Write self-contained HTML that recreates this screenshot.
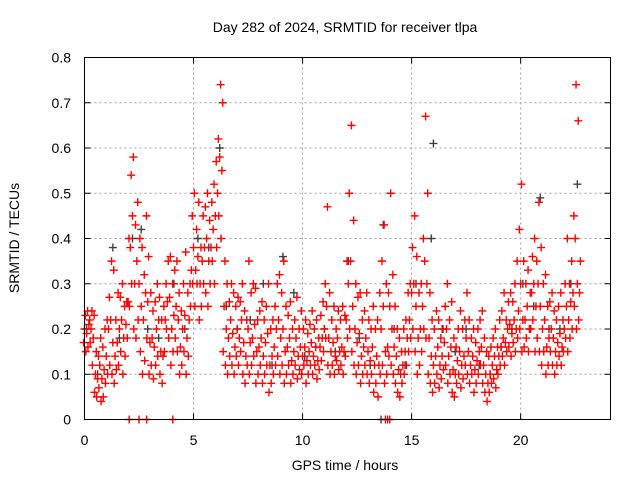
<!DOCTYPE html>
<html><head><meta charset="utf-8"><style>
body{margin:0;background:#fff;}
svg{display:block;font-family:"Liberation Sans",sans-serif;}
</style></head><body>
<svg id="chart" width="640" height="480" viewBox="0 0 640 480">
<text x="345" y="32" text-anchor="middle" font-size="14" fill="#000">Day 282 of 2024, SRMTID for receiver tlpa</text>
<text x="19" y="238" text-anchor="middle" font-size="14" transform="rotate(-90 19 238)">SRMTID / TECUs</text>
<text x="345" y="470" text-anchor="middle" font-size="14">GPS time / hours</text>
<g id="grid"></g><g id="ticks"></g><g id="marks"></g>
<rect x="84.5" y="57.5" width="526" height="362" fill="none" stroke="#000" stroke-width="1"/>
</svg>
<script>
const xTicks=[0,5,10,15,20];
const yTicks=[0,0.1,0.2,0.3,0.4,0.5,0.6,0.7,0.8];
const yTickLabels=["0","0.1","0.2","0.3","0.4","0.5","0.6","0.7","0.8"];
const redStart=0, redStep=0.1;
// red series, per 0.1h bin: low, mid, high (hundredths of TECU)
const redHundredths=[
17,20,23, 15,19,24, 16,21,22, 17,20,24, 12,18,23, 6,10,15, 5,9,14, 7,12,18, 4,9,16, 5,11,20,
8,14,22, 10,20,27, 12,22,35, 10,17,33, 8,14,22, 11,17,28, 12,20,27, 15,22,30, 10,18,25, 14,21,26,
18,26,40, 25,38,54, 30,45,58, 20,30,43, 18,35,48, 22,30,40, 15,25,38, 10,22,32, 13,28,45, 18,26,36,
10,17,28, 12,18,24, 9,16,26, 12,20,30, 14,22,27, 10,15,22, 8,14,25, 15,22,30, 20,26,35, 18,27,36,
12,20,30, 15,23,33, 18,25,35, 15,22,28, 10,16,24, 12,20,30, 15,23,37, 10,18,28, 14,22,30, 25,33,45,
30,38,50, 25,33,42, 30,36,48, 22,30,38, 25,35,45, 30,38,47, 28,40,50, 25,35,44, 30,38,48, 35,42,52,
30,45,57, 38,50,62, 45,58,74, 40,55,70, 15,25,35, 12,20,30, 10,18,26, 14,22,30, 12,19,28, 10,16,25,
14,20,27, 12,18,26, 15,22,30, 10,17,24, 8,14,22, 12,20,35, 10,17,28, 12,18,30, 14,21,29, 8,15,22,
10,16,24, 12,18,26, 8,14,22, 10,17,25, 12,19,30, 6,12,20, 8,14,22, 10,16,25, 12,20,30, 14,22,32,
10,18,28, 12,20,35, 8,15,25, 10,16,23, 12,18,26, 8,13,20, 10,15,22, 12,18,27, 9,14,20, 11,16,24,
10,14,20, 12,16,22, 8,13,19, 10,15,21, 12,17,24, 10,14,20, 12,16,22, 9,13,18, 11,16,23, 13,18,26,
15,20,30, 18,25,47, 12,18,28, 10,15,22, 12,17,25, 10,14,20, 13,18,24, 11,15,22, 12,16,25, 10,15,23,
14,22,35, 18,30,50, 20,35,65, 15,25,44, 12,20,30, 10,17,27, 12,19,28, 8,14,22, 10,16,24, 12,18,28,
10,15,22, 8,13,20, 10,16,25, 6,12,20, 8,14,22, 5,12,28, 10,20,35, 12,25,43, 8,15,30, 10,16,28,
14,25,50, 12,20,32, 10,16,25, 8,14,20, 6,11,18, 5,10,15, 8,12,20, 10,15,22, 12,18,28, 15,22,30,
18,28,38, 20,30,45, 15,25,36, 10,18,28, 12,20,30, 15,25,40, 20,35,67, 18,30,50, 10,18,28, 8,14,22,
6,12,20, 8,14,24, 10,16,22, 7,12,18, 9,14,20, 11,17,25, 12,20,30, 8,14,22, 10,16,26, 6,11,18,
5,10,16, 8,13,20, 10,15,24, 7,12,20, 9,14,22, 12,18,28, 10,15,22, 8,12,18, 10,14,20, 6,11,17,
8,13,20, 10,15,22, 12,16,24, 8,12,18, 6,10,15, 4,8,14, 6,10,16, 8,12,18, 9,14,20, 7,11,16,
10,14,22, 12,16,24, 14,18,28, 12,17,22, 15,20,26, 16,21,28, 14,19,26, 17,22,30, 15,20,35, 18,24,42,
20,30,52, 15,22,35, 16,22,30, 18,25,33, 15,20,28, 20,28,36, 22,30,40, 15,25,35, 18,30,48, 15,25,38,
12,20,30, 15,22,32, 10,16,25, 12,18,26, 15,20,28, 12,18,24, 10,15,22, 12,17,25, 14,19,28, 12,16,22,
15,20,30, 18,25,40, 15,22,30, 18,26,35, 20,28,45, 25,40,74, 20,30,66, 22,28,35
];
const redZeroTimes=[2.05,2.5,2.85,4.05,13.8,14.0];
const grayTimes=[0.1,0.6,1.3,1.6,2.2,2.6,2.9,3.4,4.1,4.6,5.2,5.7,6.2,6.5,7.0,7.6,8.2,8.6,9.1,9.6,10.1,10.6,11.0,11.5,12.1,12.6,13.1,13.6,13.7,13.9,14.2,14.7,15.2,15.9,16.0,16.4,17.0,17.5,18.1,18.6,19.1,19.6,20.1,20.6,20.9,21.3,21.8,22.3,22.6];
const grayValues=[0.2,0.1,0.38,0.18,0.4,0.42,0.2,0.18,0.3,0.2,0.4,0.38,0.6,0.25,0.2,0.22,0.3,0.12,0.36,0.28,0.14,0.16,0.2,0.15,0.35,0.18,0.12,0,0.43,0,0.2,0.12,0.3,0.4,0.61,0.2,0.15,0.2,0.12,0.1,0.16,0.2,0.3,0.25,0.49,0.2,0.2,0.3,0.52];
const X0=84.5,X1=610.5,Y0=419.5,Y1=57.5,XMAX=24.12,YMAX=0.8;
function xs(t){return X0+(X1-X0)*t/XMAX;}
function ys(v){return Y0-(Y0-Y1)*v/YMAX;}
const NS="http://www.w3.org/2000/svg";
const grid=document.getElementById('grid'),ticks=document.getElementById('ticks'),marks=document.getElementById('marks');
function line(p,x1,y1,x2,y2,st,dash){const l=document.createElementNS(NS,'line');l.setAttribute('x1',x1);l.setAttribute('y1',y1);l.setAttribute('x2',x2);l.setAttribute('y2',y2);l.setAttribute('stroke',st);if(dash)l.setAttribute('stroke-dasharray',dash);p.appendChild(l);return l;}
function txt(x,y,s,anchor){const t=document.createElementNS(NS,'text');t.setAttribute('x',x);t.setAttribute('y',y);t.setAttribute('text-anchor',anchor);t.setAttribute('font-size','14');t.textContent=s;ticks.appendChild(t);return t;}
xTicks.forEach(t=>{const x=xs(t);
 if(t>0){const g=line(grid,x,Y1,x,Y0,'#a0a0a0','2,3');
 
 }
 line(ticks,x,Y0,x,Y0-6,'#000');line(ticks,x,Y1,x,Y1+6,'#000');
 const l=txt(x,445,String(t),'middle');
 
 });
yTicks.forEach((v,i)=>{const y=ys(v);
 if(v>0&&v<YMAX){const g=line(grid,X0,y,X1,y,'#a0a0a0','2,3');
 
 }
 line(ticks,X0,y,X0+6,y,'#000');line(ticks,X1,y,X1-6,y,'#000');
 const l=txt(71,y+5,yTickLabels[i],'end');
 
 });
function plus(t,v,col,name){const x=xs(t),y=ys(v);
 const p=document.createElementNS(NS,'path');
 p.setAttribute('d','M'+(x-4)+' '+y+'H'+(x+4)+'M'+x+' '+(y-4)+'V'+(y+4));
 p.setAttribute('stroke',col);p.setAttribute('stroke-width','1.4');p.setAttribute('fill','none');
 
 
 marks.appendChild(p);}
grayTimes.forEach((t,i)=>plus(t,grayValues[i],'#404040','gray-point'));
for(let i=0;i<redHundredths.length;i++){
 const bin=Math.floor(i/3),k=i%3;
 const t=redStart+bin*redStep+(k-1)*0.04;
 plus(t,redHundredths[i]*0.01,'#ff0000','red-point');
}
redZeroTimes.forEach(t=>plus(t,0,'#ff0000','red-zero-point'));
</script>
</body></html>
